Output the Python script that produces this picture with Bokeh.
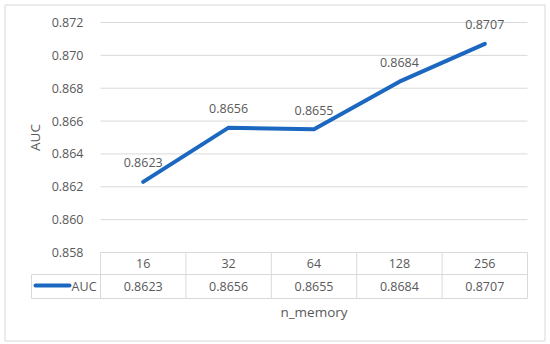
import numpy as np
from bokeh.plotting import figure
from bokeh.models import Range1d
from bokeh.core.properties import value
from bokeh.embed import file_html
from bokeh.resources import INLINE

# ---- data ----
categories = ["16", "32", "64", "128", "256"]
auc_values = [0.8623, 0.8656, 0.8655, 0.8684, 0.8707]
value_labels = ["0.8623", "0.8656", "0.8655", "0.8684", "0.8707"]
y_ticks = [0.858, 0.860, 0.862, 0.864, 0.866, 0.868, 0.870, 0.872]
y_tick_labels = ["0.858", "0.860", "0.862", "0.864", "0.866", "0.868", "0.870", "0.872"]
series_name = "AUC"
x_title = "n_memory"
y_title = "AUC"

# ---- layout (figure pixels) ----
W, H = 548, 342
plot_left, plot_right = 100, 527
plot_top, plot_bottom = 22, 252
legend_left = 31
row_split = 274
table_bottom = 298
header_y = 263
values_y = 286
xtitle_y = 311
ytitle_x = 34
frame_box = (4, 4, 544, 340)

FONT = value("Open Sans")
GRAY = "#595959"
GRID = "#D9D9D9"
BLUE = "#1C68C0"

n = len(categories)
ymin, ymax = y_ticks[0], y_ticks[-1]
ppu_y = (plot_bottom - plot_top) / (ymax - ymin)
ppu_x = (plot_right - plot_left) / n

x_range = Range1d(start=-plot_left / ppu_x, end=n + (W - plot_right) / ppu_x)
y_range = Range1d(start=ymin - (H - plot_bottom) / ppu_y, end=ymax + plot_top / ppu_y)

p = figure(width=W, height=H, x_range=x_range, y_range=y_range,
           x_axis_type=None, y_axis_type=None, toolbar_location=None,
           output_backend="svg", min_border=0)
p.extra_y_ranges = {"px": Range1d(start=H, end=0)}
p.extra_x_ranges = {"px": Range1d(start=0, end=W)}
p.grid.visible = False
p.outline_line_color = None
p.background_fill_color = "white"
p.border_fill_color = "white"

xc = [i + 0.5 for i in range(n)]
leg_x = (legend_left - plot_left) / ppu_x

# chart border
bx0, by0, bx1, by1 = frame_box
p.quad(left=[bx0 + 0.5], right=[bx1 + 0.5], top=[by0 + 0.5], bottom=[by1 + 0.5],
       fill_color=None, line_color=GRID, line_width=1,
       x_range_name="px", y_range_name="px")

# gridlines
p.segment(x0=[0] * len(y_ticks), y0=y_ticks, x1=[n] * len(y_ticks), y1=y_ticks,
          line_color=GRID, line_width=1)

# y tick labels
p.text(x=[0] * len(y_ticks), y=y_ticks, text=y_tick_labels, x_offset=-17,
       text_font=FONT, text_font_size=value("12.5px"), text_color=GRAY,
       text_align="right", text_baseline="middle")

# y title
p.text(x=[ytitle_x], y=[(plot_top + plot_bottom) / 2], text=[y_title], angle=np.pi / 2,
       x_range_name="px", y_range_name="px",
       text_font=FONT, text_font_size=value("13.5px"), text_color=GRAY,
       text_align="center", text_baseline="middle")

# series line
p.line(x=xc, y=auc_values, line_color=BLUE, line_width=4,
       line_cap="round", line_join="round")

# data labels
p.text(x=xc, y=auc_values, text=value_labels, y_offset=-19,
       text_font=FONT, text_font_size=value("12.5px"), text_color=GRAY,
       text_align="center", text_baseline="middle")

# data table lines
p.segment(x0=[leg_x, leg_x], y0=[row_split, table_bottom], x1=[n, n], y1=[row_split, table_bottom],
          line_color=GRID, line_width=1, y_range_name="px")
p.segment(x0=list(range(n + 1)), y0=[plot_bottom] * (n + 1), x1=list(range(n + 1)),
          y1=[table_bottom] * (n + 1), line_color=GRID, line_width=1, y_range_name="px")
p.segment(x0=[leg_x], y0=[row_split], x1=[leg_x], y1=[table_bottom],
          line_color=GRID, line_width=1, y_range_name="px")

# table texts
p.text(x=xc, y=[header_y] * n, text=categories, y_range_name="px",
       text_font=FONT, text_font_size=value("12.5px"), text_color=GRAY,
       text_align="center", text_baseline="middle")
p.text(x=xc, y=[values_y] * n, text=value_labels, y_range_name="px",
       text_font=FONT, text_font_size=value("12.5px"), text_color=GRAY,
       text_align="center", text_baseline="middle")

# legend key in table
p.segment(x0=[legend_left + 4], y0=[values_y - 1], x1=[legend_left + 38], y1=[values_y - 1],
          line_color=BLUE, line_width=4, line_cap="round",
          x_range_name="px", y_range_name="px")
p.text(x=[0], y=[values_y], text=[series_name], x_offset=-4, y_range_name="px",
       text_font=FONT, text_font_size=value("12.5px"), text_color=GRAY,
       text_align="right", text_baseline="middle")

# x title
p.text(x=[n / 2], y=[xtitle_y], text=[x_title], y_range_name="px",
       text_font=FONT, text_font_size=value("13.5px"), text_color=GRAY,
       text_align="center", text_baseline="middle")

open("out.html", "w").write(file_html(p, INLINE))
